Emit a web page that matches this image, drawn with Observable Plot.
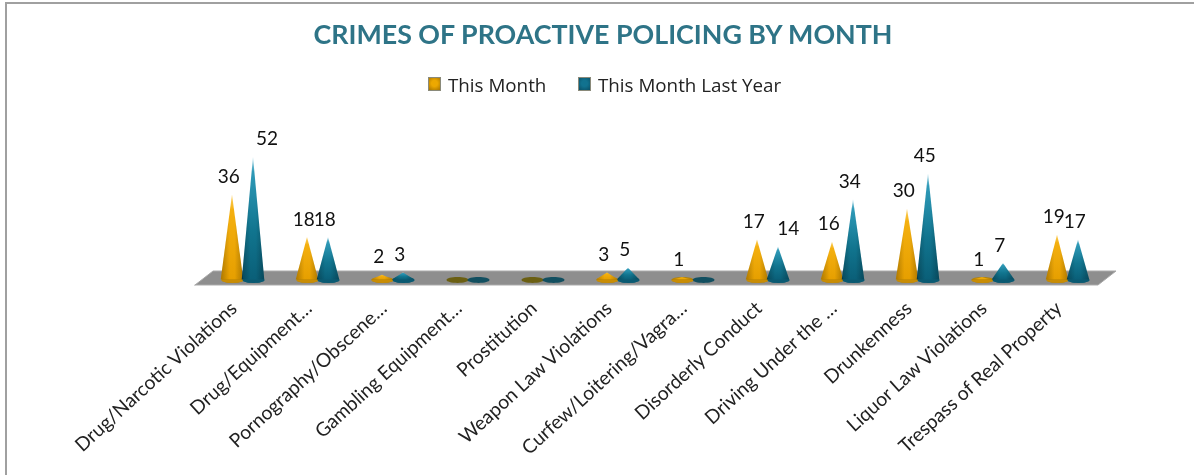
<!DOCTYPE html>
<html>
<head>
<meta charset="utf-8">
<script src="https://cdn.jsdelivr.net/npm/d3@7"></script>
<script src="https://cdn.jsdelivr.net/npm/@observablehq/plot@0.6"></script>
<style>
html,body{margin:0;padding:0;background:#fff;overflow:hidden}
#page{position:relative;width:1194px;height:475px;box-sizing:border-box;overflow:hidden;filter:blur(.35px)}
#lineTop{position:absolute;left:5px;top:2px;right:0;height:2px;background:#a0a0a0}
#lineLeft{position:absolute;left:5px;top:2px;bottom:0;width:2px;background:#a0a0a0}
#title{position:absolute;left:12px;right:0;top:18px;text-align:center;font:700 26.8px Lato,sans-serif;color:#2e7487}
#legend{position:absolute;top:74px;left:0;height:22px;font:18.8px "Open Sans",sans-serif;color:#222}
#legend span{position:absolute;white-space:nowrap;line-height:22px}
#legend i{position:absolute;top:3px;width:13px;height:14px;box-sizing:border-box;border:1px solid #8a8a7a}
#chart{position:absolute;left:0;top:100px}
</style>
</head>
<body>
<div id="page">
<div id="lineTop"></div><div id="lineLeft"></div>
<div id="title">CRIMES OF PROACTIVE POLICING BY MONTH</div>
<div id="legend"></div>
<div id="chart"></div>
</div>
<script>
const categories = ["Drug/Narcotic Violations","Drug/Equipment…","Pornography/Obscene…","Gambling Equipment…","Prostitution","Weapon Law Violations","Curfew/Loitering/Vagra…","Disorderly Conduct","Driving Under the …","Drunkenness","Liquor Law Violations","Trespass of Real Property"];
const thisMonth = [36,18,2,0,0,3,1,17,16,30,1,19];
const lastYear = [52,18,3,0,0,5,0,14,34,45,7,17];
const seriesNames = ["This Month","This Month Last Year"];
const seriesColors = ["#eda800","#11728f"];
const floorX = [-0.633,-0.393,11.407,11.647];
const floorTop = [-2.33,3.6,3.6,3.6];
const floorBottom = [-2.33,-2.33,-2.33,3.6];

const offset = 0.14, halfWidth = 0.15;
const series = [thisMonth, lastYear];
const bars = series.flatMap((vals,s)=>vals.map((v,i)=>({i,s,v,cx:i+(s?offset:-offset)})));
const cones = bars.filter(d=>d.v>0).flatMap(d=>[
  {id:d.s+"-"+d.i,s:d.s,x:d.cx-halfWidth,y:0},
  {id:d.s+"-"+d.i,s:d.s,x:d.cx,y:d.v},
  {id:d.s+"-"+d.i,s:d.s,x:d.cx+halfWidth,y:0}
]);
const labelNudge = {"1-0":0.23,"1-7":0.18};
const labels = bars.filter(d=>d.v>0).map(d=>({...d,lx:d.cx-0.05+(labelNudge[d.s+"-"+d.i]||0)}));
const floor = floorX.map((x,k)=>({x,y1:floorBottom[k],y2:floorTop[k]}));

const k0=0.5523;
const ellipse = {draw(c){const a=11,b=2.9,k=k0;
  c.moveTo(-a,0);
  c.bezierCurveTo(-a,-k*b,-k*a,-b,0,-b);
  c.bezierCurveTo(k*a,-b,a,-k*b,a,0);
  c.bezierCurveTo(a,k*b,k*a,b,0,b);
  c.bezierCurveTo(-k*a,b,-a,k*b,-a,0);
  c.closePath();}};
const lowerHalf = {draw(c){const a=11,b=2.9,k=k0;
  c.moveTo(-a,0);
  c.bezierCurveTo(-a,k*b,-k*a,b,0,b);
  c.bezierCurveTo(k*a,b,a,k*b,a,0);
  c.closePath();}};

const plot = Plot.plot({
  width:1194,height:375,
  marginTop:0,marginBottom:180,marginLeft:0,marginRight:0,
  x:{domain:[-3.2333,12.6867],range:[0,1194]},
  y:{domain:[-6.57,76.06],range:[195,0],axis:null},
  style:{background:"transparent",fontFamily:"Lato, sans-serif"},
  marks:[
    Plot.area(floor,{x1:"x",y1:"y1",y2:"y2",fill:"#8e8e8e",stroke:"#a9a9a9",strokeWidth:1}),
    Plot.dot(bars,{x:"cx",y:0,symbol:ellipse,r:5,fill:d=>d.v>0?(d.s?"#0c5a72":"#b07f05"):(d.s?"#124f60":"#6b5f12")}),
    Plot.area(cones,{x1:"x",y1:0,y2:"y",z:"id",fill:d=>d.s?"url(#coneT)":"url(#coneO)"}),
    Plot.area(cones,{x1:"x",y1:0,y2:"y",z:"id",fill:"url(#shade)"}),
    Plot.dot(bars.filter(d=>d.v>0),{x:"cx",y:0,symbol:lowerHalf,r:5,fill:d=>d.s?"#0a5a72":"#c98d04"}),
    Plot.text(labels,{x:"lx",y:"v",text:"v",dy:-18,fontSize:19,fontFamily:"Lato, sans-serif",fill:"#111",lineAnchor:"middle"}),
    Plot.axisX({ticks:d3.range(categories.length),tickFormat:i=>categories[i],tickSize:0,tickPadding:10,tickRotate:-42.5,label:null,fontSize:19.3,fontFamily:"Lato, sans-serif",color:"#222",dx:-9})
  ]
});
plot.style.overflow="visible";
const NS="http://www.w3.org/2000/svg";
const defs=document.createElementNS(NS,"defs");
defs.innerHTML=`
<linearGradient id="coneO" x1="0" x2="0" y1="0" y2="1"><stop offset="0" stop-color="#fdd46a"/><stop offset=".18" stop-color="#f4b010"/><stop offset="1" stop-color="#e69f00"/></linearGradient>
<linearGradient id="coneT" x1="0" x2="0" y1="0" y2="1"><stop offset="0" stop-color="#bfe3ee"/><stop offset=".12" stop-color="#2f9ab8"/><stop offset=".6" stop-color="#11758f"/><stop offset="1" stop-color="#0a5f78"/></linearGradient>
<linearGradient id="shade" x1="0" x2="1" y1="0" y2="0"><stop offset="0" stop-color="#000" stop-opacity=".25"/><stop offset=".38" stop-color="#000" stop-opacity="0"/><stop offset=".62" stop-color="#000" stop-opacity="0"/><stop offset="1" stop-color="#000" stop-opacity=".25"/></linearGradient>`;
plot.insertBefore(defs,plot.firstChild);
document.getElementById("chart").appendChild(plot);

const legend=document.getElementById("legend");
[[428,448],[578,598]].forEach(([bx,tx],k)=>{
  const sw=document.createElement("i");
  sw.style.left=bx+"px";
  sw.style.background=`radial-gradient(circle at 50% 45%, ${seriesColors[k]} 35%, ${k?"#0a4f66":"#a87400"} 100%)`;
  legend.appendChild(sw);
  const t=document.createElement("span");
  t.style.left=tx+"px";t.textContent=seriesNames[k];
  legend.appendChild(t);
});
</script>
</body>
</html>
